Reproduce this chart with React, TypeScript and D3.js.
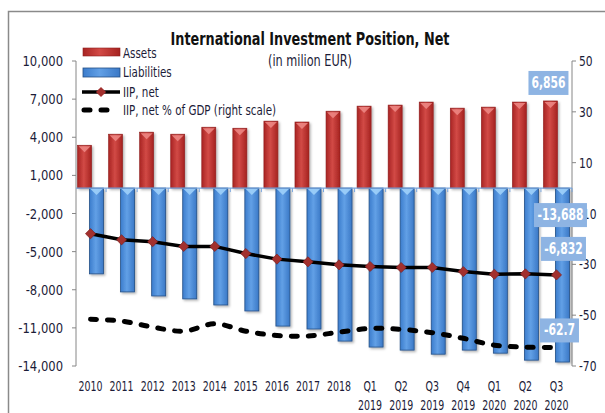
import React from 'react'
import * as d3 from 'd3'

const categories = ['2010', '2011', '2012', '2013', '2014', '2015', '2016', '2017', '2018',
  'Q1 2019', 'Q2 2019', 'Q3 2019', 'Q4 2019', 'Q1 2020', 'Q2 2020', 'Q3 2020']
const assets = [3370, 4240, 4400, 4240, 4790, 4710, 5270, 5200, 6050, 6450, 6530, 6770, 6290, 6370, 6770, 6856]
const liabilities = [-6750, -8170, -8490, -8720, -9200, -9670, -10860, -11090, -12040, -12510, -12750, -13070, -12750, -12990, -13540, -13688]
const iipNet = [-3590, -4070, -4220, -4590, -4590, -5150, -5590, -5800, -6040, -6170, -6250, -6250, -6570, -6780, -6750, -6832]
const iipGdp = [-51.6, -52.3, -54.7, -56.3, -53.4, -56.3, -58.0, -58.2, -56.7, -55.2, -55.6, -56.9, -59.1, -61.8, -62.6, -62.7]
const leftTicks = [10000, 7000, 4000, 1000, -2000, -5000, -8000, -11000, -14000]
const rightTicks = [50, 30, 10, -10, -30, -50, -70]

const FONT = '"DejaVu Sans Condensed", "DejaVu Sans", sans-serif'
const TXT = '#1c1c38'

const loc = d3.formatLocale({ decimal: '.', thousands: ',', grouping: [3], currency: ['', ''], minus: '-' })
const fmt = loc.format(',')
const fmt1 = loc.format('.1f')

// narrow text: the source font is much more condensed than what is installed
function T({ x, y, sx = 0.8, children, ...rest }: any) {
  return <text transform={`translate(${x},${y}) scale(${sx},1)`} {...rest}>{children}</text>
}

export default function App() {
  const W = 605, H = 413
  const x = d3.scaleBand().domain(categories).range([75, 572]).padding(0)
  const yL = d3.scaleLinear().domain([-14000, 10000]).range([366, 61])
  const yR = d3.scaleLinear().domain([-70, 50]).range([366, 61])
  const cx = (i: number) => (x(categories[i]) as number) + x.bandwidth() / 2
  const y0 = yL(0)
  const bw = 14

  const netLine = d3.line<number>().x((_, i) => cx(i)).y(d => yL(d))
  const gdpLine = d3.line<number>().x((_, i) => cx(i)).y(d => yR(d)).curve(d3.curveCatmullRom.alpha(0.5))
  const diamond = d3.symbol(d3.symbolSquare, 52)()

  const last = categories.length - 1
  const lx = cx(last)

  const labels = [
    { text: fmt(assets[last]), x: lx - 8, y: yL(assets[last]) - 18, w: 40 },
    { text: fmt(liabilities[last]), x: lx + 4, y: y0 + 27, w: 53 },
    { text: fmt(iipNet[last]), x: lx + 7, y: yL(iipNet[last]) - 26, w: 45 },
    { text: fmt1(iipGdp[last]), x: lx + 3, y: yR(iipGdp[last]) - 17, w: 39 },
  ]

  return (
    <svg width={W} height={H} style={{ position: 'absolute', left: 0, top: 0, fontFamily: FONT }}>
      <defs>
        <linearGradient id="gRed" x1="0" x2="1" y1="0" y2="0">
          <stop offset="0" stopColor="#a82423" />
          <stop offset="0.45" stopColor="#d24a46" />
          <stop offset="1" stopColor="#a52220" />
        </linearGradient>
        <linearGradient id="gBlue" x1="0" x2="1" y1="0" y2="0">
          <stop offset="0" stopColor="#3b7ccc" />
          <stop offset="0.45" stopColor="#62a0e6" />
          <stop offset="1" stopColor="#3a78c6" />
        </linearGradient>
        <filter id="sh" x="-20%" y="-5%" width="150%" height="115%">
          <feDropShadow dx="1.5" dy="1.5" stdDeviation="1" floodColor="#000" floodOpacity="0.3" />
        </filter>
      </defs>
      <rect x={0} y={0} width={W} height={H} fill="#fff" />
      <rect x={8.5} y={11.5} width={640} height={440} fill="#fff" stroke="#8a8a8a" strokeWidth={1.5} />

      {/* title */}
      <text x={310} y={45} textAnchor="middle" fontSize={17} fontWeight="bold" fill="#111"
        textLength={279} lengthAdjust="spacingAndGlyphs">International Investment Position, Net</text>
      <text x={310} y={66} textAnchor="middle" fontSize={15} fill={TXT}
        textLength={84} lengthAdjust="spacingAndGlyphs">(in milion EUR)</text>

      {/* left axis */}
      <line x1={76} x2={76} y1={yL(10000)} y2={yL(-14000)} stroke="#868686" />
      {leftTicks.map(t => (
        <g key={t}>
          <line x1={72} x2={76} y1={yL(t)} y2={yL(t)} stroke="#868686" />
          <T x={63} y={yL(t) + 5} sx={0.92} textAnchor="end" fontSize={14} fill={TXT}>{fmt(t)}</T>
        </g>
      ))}

      {/* right axis */}
      <line x1={572} x2={572} y1={yR(50)} y2={yR(-70)} stroke="#868686" />
      {rightTicks.map(t => (
        <g key={t}>
          <line x1={572} x2={576} y1={yR(t)} y2={yR(t)} stroke="#868686" />
          <T x={579} y={yR(t) + 5} sx={0.85} fontSize={14} fill={TXT}>{fmt(t)}</T>
        </g>
      ))}

      {/* bars */}
      {assets.map((v, i) => {
        const xl = cx(i) - bw + 1
        const yt = yL(v)
        return (
          <g key={'a' + i} filter="url(#sh)">
            <rect x={xl} y={yt} width={bw} height={y0 - yt} fill="url(#gRed)" stroke="#8e1c1b" strokeWidth={0.6} />
            <path d={`M${xl + 1},${yt + 1}L${xl + bw - 1},${yt + 1}L${xl + bw / 2},${yt + 7}Z`} fill="#ee8a86" opacity={0.85} />
          </g>
        )
      })}
      {liabilities.map((v, i) => {
        const xl = cx(i) - 1
        const yb = yL(v)
        return (
          <g key={'l' + i} filter="url(#sh)">
            <rect x={xl} y={y0} width={bw} height={yb - y0} fill="url(#gBlue)" stroke="#234f86" strokeWidth={0.8} />
            <path d={`M${xl + 1},${y0 + 1}L${xl + bw - 1},${y0 + 1}L${xl + bw / 2},${y0 + 7}Z`} fill="#9fd0fa" opacity={0.9} />
          </g>
        )
      })}

      {/* category axis at zero */}
      <line x1={76} x2={572} y1={y0} y2={y0} stroke="#79a6de" strokeWidth={1.2} />
      {categories.map((c) => (
        <line key={'t' + c} x1={(x(c) as number) + x.bandwidth()} x2={(x(c) as number) + x.bandwidth()}
          y1={y0} y2={y0 + 4} stroke="#79a6de" />
      ))}

      {/* lines */}
      <path d={netLine(iipNet) || ''} fill="none" stroke="#000" strokeWidth={3.5} />
      {iipNet.map((v, i) => (
        <path key={'d' + i} d={diamond || ''} transform={`translate(${cx(i)},${yL(v)}) rotate(45)`}
          fill="#a2302e" stroke="#7c1d1c" strokeWidth={0.6} />
      ))}
      <path d={gdpLine(iipGdp) || ''} fill="none" stroke="#000" strokeWidth={5}
        strokeDasharray="6 11" strokeLinecap="round" />

      {/* category labels */}
      {categories.map((c, i) => c.split(' ').map((p, k) => (
        <T key={c + k} x={cx(i)} y={391 + k * 19} sx={0.75} textAnchor="middle" fontSize={14} fill={TXT}>{p}</T>
      )))}

      {/* data labels */}
      {labels.map((l, i) => (
        <g key={'lb' + i}>
          <rect x={l.x - l.w / 2} y={l.y - 12} width={l.w} height={24} fill="#8eb4e3" />
          <T x={l.x} y={l.y + 5} sx={0.8} textAnchor="middle" fontSize={15} fontWeight="bold" fill="#fff">{l.text}</T>
        </g>
      ))}

      {/* legend */}
      <g>
        <rect x={83} y={48} width={37} height={8} fill="url(#gRed)" stroke="#8e1c1b" strokeWidth={0.6} />
        <T x={123} y={58} sx={0.82} fontSize={14} fill={TXT}>Assets</T>
        <rect x={83} y={68} width={37} height={9} fill="url(#gBlue)" stroke="#234f86" strokeWidth={0.8} />
        <T x={123} y={77} sx={0.82} fontSize={14} fill={TXT}>Liabilities</T>
        <line x1={82} x2={120} y1={92} y2={92} stroke="#000" strokeWidth={3.5} />
        <path d={diamond || ''} transform="translate(101,92) rotate(45)" fill="#a2302e" />
        <T x={123} y={97} sx={0.82} fontSize={14} fill={TXT}>IIP, net</T>
        <line x1={84} x2={112} y1={110} y2={110} stroke="#000" strokeWidth={5}
          strokeDasharray="6 11" strokeLinecap="round" />
        <T x={123} y={115} sx={0.82} fontSize={14} fill={TXT}>IIP, net % of GDP (right scale)</T>
      </g>
    </svg>
  )
}
